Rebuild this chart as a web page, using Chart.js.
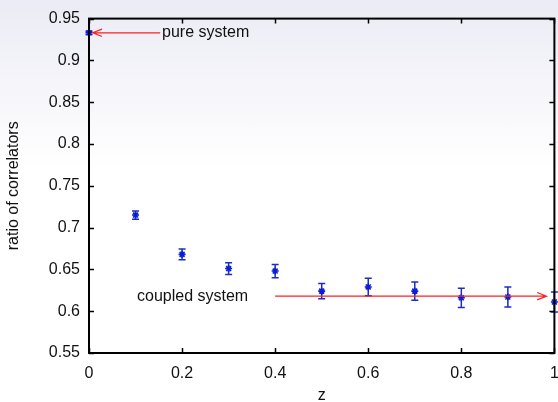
<!DOCTYPE html>
<html>
<head>
<meta charset="utf-8">
<script src="https://cdn.jsdelivr.net/npm/chart.js@4.4.0/dist/chart.umd.min.js"></script>
<style>
  html, body { margin: 0; padding: 0; }
  body {
    width: 558px; height: 402px; overflow: hidden;
    background: linear-gradient(#ebebf5 0px, #ffffff 170px);
  }
  canvas { display: block; }
</style>
</head>
<body>
<canvas id="ratio-chart" width="560" height="402"></canvas>
<script>
// ─── Ratio of correlators vs z ───────────────────────────────────

const zValues     = [0, 0.1, 0.2, 0.3, 0.4, 0.5, 0.6, 0.7, 0.8, 0.9, 1.0];
const ratios      = [0.933, 0.715, 0.668, 0.651, 0.648, 0.624, 0.629, 0.624, 0.616, 0.617, 0.611];
const ratioErrors = [0.002, 0.005, 0.0065, 0.007, 0.008, 0.009, 0.0105, 0.011, 0.0115, 0.012, 0.012];

// arrows: tail -> head, in data coordinates
const arrowTails  = [[0.153, 0.933], [0.400, 0.618]];
const arrowHeads  = [[0.008, 0.933], [0.983, 0.618]];
const labelTexts  = ['pure system', 'coupled system'];
const labelPoints = [[0.157, 0.933], [0.342, 0.618]];
const labelAlign  = ['left', 'right'];

const FONT      = { family: "'Liberation Sans', Arial, sans-serif", size: 16 };
const MARK_BLUE = '#0a1ed8';
const ERR_BLUE  = '#1a2fc0';
const ARROW_RED = '#ff2020';

const fmt = v => String(Number(v.toFixed(2)));

const plotDecor = {
  id: 'plotDecor',
  beforeDatasetsDraw(chart) {
    const { ctx, scales: { x, y } } = chart;
    ctx.save();
    ctx.strokeStyle = ERR_BLUE;
    ctx.lineWidth = 1.5;
    zValues.forEach((z, i) => {
      const px = x.getPixelForValue(z);
      const lo = y.getPixelForValue(ratios[i] - ratioErrors[i]);
      const hi = y.getPixelForValue(ratios[i] + ratioErrors[i]);
      ctx.beginPath();
      ctx.moveTo(px, lo); ctx.lineTo(px, hi);
      ctx.moveTo(px - 3.5, lo); ctx.lineTo(px + 3.5, lo);
      ctx.moveTo(px - 3.5, hi); ctx.lineTo(px + 3.5, hi);
      ctx.stroke();
    });
    ctx.restore();
  },
  afterDraw(chart) {
    const { ctx, chartArea: { left, right, top, bottom }, scales: { x, y } } = chart;
    ctx.save();

    // frame + inward ticks on all four sides
    ctx.strokeStyle = '#000';
    ctx.lineWidth = 2;
    ctx.strokeRect(left, top, right - left, bottom - top);
    ctx.lineWidth = 1.5;
    ctx.beginPath();
    x.ticks.forEach(t => {
      const px = Math.round(x.getPixelForValue(t.value)) + 0.5;
      ctx.moveTo(px, bottom); ctx.lineTo(px, bottom - 5);
      ctx.moveTo(px, top);    ctx.lineTo(px, top + 5);
    });
    y.ticks.forEach(t => {
      const py = Math.round(y.getPixelForValue(t.value)) + 0.5;
      ctx.moveTo(left, py);  ctx.lineTo(left + 5, py);
      ctx.moveTo(right, py); ctx.lineTo(right - 5, py);
    });
    ctx.stroke();

    // arrows
    ctx.strokeStyle = ARROW_RED;
    ctx.lineWidth = 1.2;
    arrowTails.forEach((tail, i) => {
      const x0 = x.getPixelForValue(tail[0]), y0 = y.getPixelForValue(tail[1]);
      const x1 = x.getPixelForValue(arrowHeads[i][0]), y1 = y.getPixelForValue(arrowHeads[i][1]);
      const ang = Math.atan2(y1 - y0, x1 - x0);
      ctx.beginPath();
      ctx.moveTo(x0, y0); ctx.lineTo(x1, y1);
      ctx.moveTo(x1 - 10 * Math.cos(ang - 0.38), y1 - 10 * Math.sin(ang - 0.38));
      ctx.lineTo(x1, y1);
      ctx.lineTo(x1 - 10 * Math.cos(ang + 0.38), y1 - 10 * Math.sin(ang + 0.38));
      ctx.stroke();
    });

    // labels
    ctx.fillStyle = '#111';
    ctx.font = `${FONT.size}px ${FONT.family}`;
    ctx.textBaseline = 'middle';
    labelTexts.forEach((txt, i) => {
      ctx.textAlign = labelAlign[i];
      ctx.fillText(txt, x.getPixelForValue(labelPoints[i][0]), y.getPixelForValue(labelPoints[i][1]));
    });
    ctx.restore();
  },
};

new Chart(document.getElementById('ratio-chart'), {
  type: 'scatter',
  data: {
    datasets: [{
      data: zValues.map((z, i) => ({ x: z, y: ratios[i] })),
      pointStyle: 'star',
      pointRadius: 3.5,
      borderWidth: 1.6,
      borderColor: MARK_BLUE,
      backgroundColor: MARK_BLUE,
      clip: false,
    }],
  },
  options: {
    responsive: false,
    animation: false,
    layout: { padding: { top: 14, right: 0, left: 0, bottom: 0 } },
    plugins: { legend: { display: false }, tooltip: { enabled: false } },
    scales: {
      x: {
        type: 'linear', min: 0, max: 1,
        grid: { display: false, drawTicks: false }, border: { display: false },
        ticks: { stepSize: 0.2, color: '#111', font: FONT, padding: 11, maxRotation: 0, callback: fmt },
        title: { display: true, text: 'z', color: '#111', font: FONT, padding: { top: 0, bottom: -3 } },
        afterFit: s => { s.height = 49; s.paddingLeft = 0; s.paddingRight = 0; },
      },
      y: {
        min: 0.55, max: 0.95,
        grid: { display: false, drawTicks: false }, border: { display: false },
        ticks: { stepSize: 0.05, color: '#111', font: FONT, padding: 9, callback: fmt },
        title: { display: true, text: 'ratio of correlators', color: '#111', font: FONT, padding: { top: 4, bottom: 0 } },
        afterFit: s => { s.width = 89; },
      },
    },
  },
  plugins: [plotDecor],
});
</script>
</body>
</html>
